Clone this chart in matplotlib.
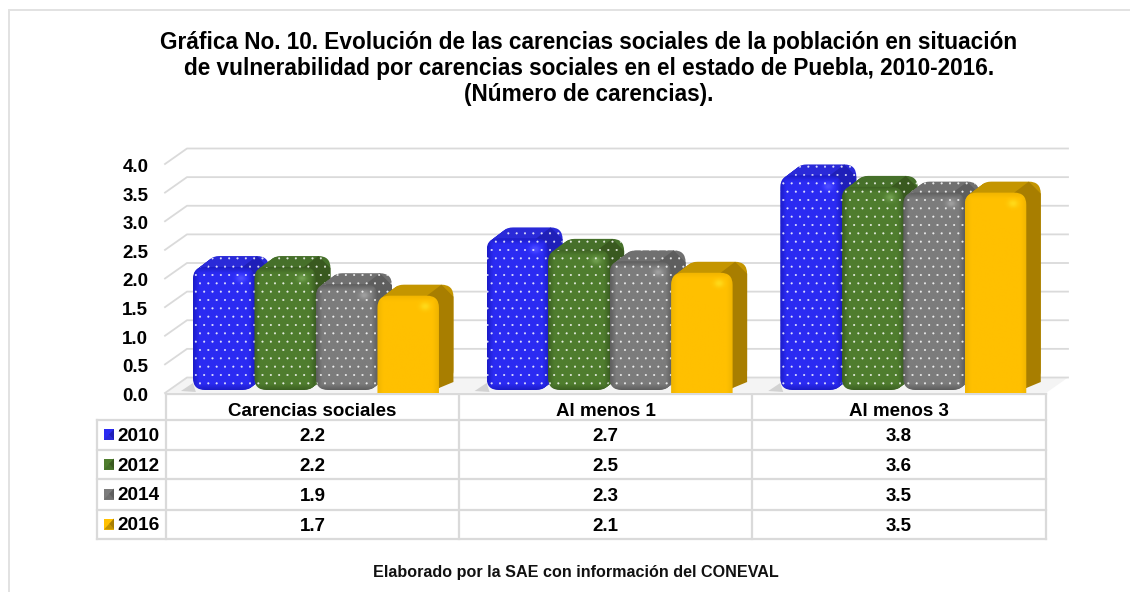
import numpy as np
import matplotlib
matplotlib.use("Agg")
import matplotlib.pyplot as plt
from matplotlib.patches import FancyBboxPatch, Polygon, Rectangle
from matplotlib.colors import to_rgb
from matplotlib.transforms import ScaledTranslation

plt.rcParams['font.family'] = ['Liberation Sans', 'DejaVu Sans']
plt.rcParams['hatch.linewidth'] = 0.25

categories = ["Carencias sociales", "Al menos 1", "Al menos 3"]
years = ["2010", "2012", "2014", "2016"]
v2010 = [2.2, 2.7, 3.8]
v2012 = [2.2, 2.5, 3.6]
v2014 = [1.9, 2.3, 3.5]
v2016 = [1.7, 2.1, 3.5]
series = [v2010, v2012, v2014, v2016]
y_ticks = [0.0, 0.5, 1.0, 1.5, 2.0, 2.5, 3.0, 3.5, 4.0]
title_lines = [
    "Gráfica No. 10. Evolución de las carencias sociales de la población en situación",
    "de vulnerabilidad por carencias sociales en el estado de Puebla, 2010-2016.",
    "(Número de carencias).",
]
footnote = "Elaborado por la SAE con información del CONEVAL"

base_cols = ["#2B2BF2", "#4F7D2E", "#7C7C7C", "#FFC000"]
edge_cols = ["#1C1CC8", "#3C6022", "#5E5E5E", "#F0B400"]
top_cols = ["#2A2AD8", "#46702A", "#707070", "#C49500"]
side_cols = ["#1F1FB8", "#39591F", "#5E5E5E", "#A87E00"]
GRID = "#DADADA"

W, H = 1130, 592
fig = plt.figure(figsize=(W / 100, H / 100), dpi=100, facecolor="white")

# layout layer in pixel coordinates
bg = fig.add_axes([0, 0, 1, 1], zorder=0)
bg.set_xlim(0, W)
bg.set_ylim(H, 0)
bg.axis("off")
bg.plot([1130, 9, 9], [10, 10, 592], color="#E2E2E2", lw=1.4, solid_joinstyle="miter")

title_base = [49, 75.5, 101]
for line, yb in zip(title_lines, title_base):
    bg.text(589, yb, line, ha="center", va="baseline", fontsize=16.25, fontweight="bold", color="black")
bg.text(576, 576.5, footnote, ha="center", va="baseline", fontsize=11.6, fontweight="bold", color="#111111")

# table
col_x = [166, 459, 752, 1046]
row_y = [420, 450, 479, 510, 539]
value_base = [441, 471, 501, 531]
year_base = [441, 471, 500, 530]
tkw = dict(color=GRID, lw=1.6, solid_capstyle="projecting")
bg.plot([166, 1046], [394, 394], **tkw)
for y in row_y:
    bg.plot([97, 1046], [y, y], **tkw)
for x in col_x:
    bg.plot([x, x], [394, 539], **tkw)
bg.plot([97, 97], [420, 539], **tkw)

for c, name in enumerate(categories):
    cx = (col_x[c] + col_x[c + 1]) / 2
    bg.text(cx, 416, name, ha="center", va="baseline", fontsize=13.5, fontweight="bold")
    for r, vals in enumerate(series):
        bg.text(cx, value_base[r], f"{vals[c]:.1f}", ha="center", va="baseline",
                fontsize=13.5, fontweight="bold")
for r, yr in enumerate(years):
    cy = (row_y[r] + row_y[r + 1]) / 2
    bg.text(117, year_base[r], yr, ha="left", va="baseline", fontsize=13.7, fontweight="bold")
    bg.add_patch(Rectangle((104, cy - 6), 10, 11, fc=base_cols[r], ec="none"))
    bg.add_patch(Polygon([(114, cy - 6), (114, cy + 5), (109, cy - 0.5)], fc=side_cols[r], ec="none"))
    bg.add_patch(Polygon([(104, cy + 5), (114, cy + 5), (109, cy - 0.5)], fc=top_cols[r], ec="none"))

# chart layer: front plane of the 3-D box
px_left, px_right, px_bot, px_top = 165, 1046, 393, 164
ax = fig.add_axes([px_left / W, (H - px_bot) / H, (px_right - px_left) / W, (px_bot - px_top) / H], zorder=1)
ax.patch.set_alpha(0)
for s in ax.spines.values():
    s.set_visible(False)
ax.set_xlim(0, 3)
ax.set_ylim(0, 4)
ux = (px_right - px_left) / 3      # pixels per x unit
uy = (px_bot - px_top) / 4         # pixels per y unit
dep_x, dep_y = 22 / ux, 15.5 / uy  # box depth

ax.set_xticks([])
ax.set_yticks(y_ticks)
ax.set_yticklabels([f"{t:.1f}" for t in y_ticks], fontsize=13.5, fontweight="bold")
ax.tick_params(axis="y", length=0, pad=12)
for lab in ax.get_yticklabels():
    lab.set_transform(lab.get_transform() + ScaledTranslation(0, -1.5 / 100, fig.dpi_scale_trans))

# floor and gridlines
ax.add_patch(Polygon([(0, 0), (dep_x, dep_y), (3 + dep_x, dep_y), (3, 0)], fc="#F4F4F4", ec="none",
                     clip_on=False, zorder=1))
for t in y_ticks:
    ax.plot([0, dep_x, 3 + dep_x], [t, t + dep_y, t + dep_y], color=GRID, lw=1.3, clip_on=False, zorder=2)

bar_w = 61.5 / ux
gap_depth = (14.5 / ux, 11 / uy)
rx = 12 / ux
aspect = ux / uy
ry = rx * aspect
lift = 3 / uy


def shade(base, edge, highlight, nx=80, ny=240, hx=0.78, height_px=120, plain=False):
    xs = np.linspace(0, 1, nx)
    ys = np.linspace(0, 1, ny)        # 0 = top
    X, Y = np.meshgrid(xs, ys)
    dx = np.minimum(X, 1 - X) * 61.5
    dy = (Y if plain else np.minimum(Y, 1 - Y)) * height_px
    t = np.clip(np.minimum(dx, dy) / 6.0, 0, 1)[..., None]
    img = np.array(to_rgb(edge)) * (1 - t) + np.array(to_rgb(base)) * t
    spot = np.exp(-(((X - hx) * 61.5 / 5) ** 2 + ((Y * height_px - 11) / 4) ** 2))[..., None]
    return np.clip(img + spot * highlight, 0, 1)


z = 10
for g in range(len(categories)):
    left = g + 0.5 + 0.014 - 2 * bar_w
    # soft contact shadow to the left of the first bar
    ax.add_patch(Polygon([(left - 12 / ux, 2 / uy), (left, 10 / uy), (left + 0.01, 1 / uy)],
                         fc="#C4C4C4", ec="none", alpha=0.7, zorder=3, clip_on=False))
    for s, vals in enumerate(series):
        val = vals[g]
        x0 = left + s * bar_w
        x1 = x0 + bar_w
        is_plain = s == 3
        y0 = 0 if is_plain else lift
        hatch = None if is_plain else ".."
        hc = (1, 1, 1, 0.85)
        ddx, ddy = gap_depth
        z += 10
        # extruded body
        for k in np.linspace(1, 0.05, 16):
            ax.add_patch(FancyBboxPatch((x0 + ddx * k, y0 + ddy * k), bar_w, val - y0,
                                        boxstyle=f"round,pad=0,rounding_size={rx}", mutation_aspect=aspect,
                                        fc=top_cols[s], ec="none", clip_on=False, zorder=z))
        # depth faces
        ax.add_patch(Polygon([(x1 - rx, val), (x1 - rx + ddx, val + ddy), (x1 + ddx - rx, val + ddy),
                              (x1 + ddx, val + ddy - ry), (x1 + ddx, y0 + ddy + (0 if is_plain else ry)),
                              (x1 - rx, y0)],
                             fc=side_cols[s], ec="none", clip_on=False, zorder=z + 1))
        if hatch:
            ax.add_patch(FancyBboxPatch((x0 + ddx, y0 + ddy), bar_w, val - y0,
                                        boxstyle=f"round,pad=0,rounding_size={rx}", mutation_aspect=aspect,
                                        fc="none", ec=hc, lw=0, hatch=hatch, clip_on=False, zorder=z + 2))
        # front face
        clip_y0 = -0.4 if is_plain else y0
        front = FancyBboxPatch((x0, clip_y0), bar_w, val - clip_y0,
                               boxstyle=f"round,pad=0,rounding_size={rx}", mutation_aspect=aspect,
                               fc="none", ec="none", clip_on=False, zorder=z + 3)
        ax.add_patch(front)
        im = ax.imshow(shade(base_cols[s], edge_cols[s], 0.14 if not is_plain else 0.1,
                             height_px=(val - y0) * uy, plain=is_plain),
                       extent=(x0, x1, y0, val), aspect="auto", interpolation="bilinear",
                       zorder=z + 4, clip_on=True)
        im.set_clip_path(front)
        if hatch:
            ax.add_patch(FancyBboxPatch((x0, y0), bar_w, val - y0,
                                        boxstyle=f"round,pad=0,rounding_size={rx}", mutation_aspect=aspect,
                                        fc="none", ec=hc, lw=0, hatch=hatch, clip_on=False, zorder=z + 5))
ax.set_xlim(0, 3)
ax.set_ylim(0, 4)

fig.savefig("out.png", dpi=100, facecolor="white")
